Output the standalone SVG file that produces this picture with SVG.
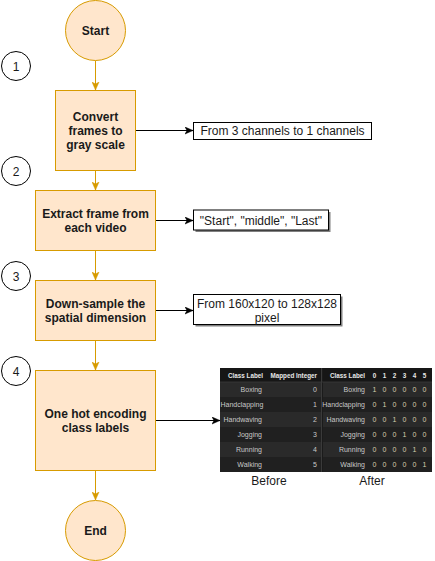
<svg xmlns="http://www.w3.org/2000/svg" width="435" height="561" viewBox="0 0 435 561">
<defs>
<style>
.box{fill:#ffe6cc;stroke:#d79b00;stroke-width:1}
.lbl{font-family:"Liberation Sans",Arial,sans-serif;font-size:12px;font-weight:bold;fill:#1a1a1a;text-anchor:middle}
.txt{font-family:"Liberation Sans",Arial,sans-serif;font-size:12px;fill:#1a1a1a;text-anchor:middle}
.note{fill:#ffffff;stroke:#000000;stroke-width:1}
.shadow{fill:#808080}
.num{fill:#ffffff;stroke:#000000;stroke-width:1}
.oc{stroke:#d79b00;stroke-width:1;fill:none;marker-end:url(#ao)}
.bc{stroke:#000000;stroke-width:1;fill:none;marker-end:url(#ab)}
.th{font-family:"Liberation Sans",Arial,sans-serif;font-size:6.3px;font-weight:bold;fill:#e8e8e8}
.td{font-family:"Liberation Sans",Arial,sans-serif;font-size:7px;fill:#c8c8c8}
.tn{font-family:"Liberation Sans",Arial,sans-serif;font-size:7px;fill:#d8cfae;text-anchor:middle}
.r{text-anchor:end}
</style>
<marker id="ao" viewBox="0 0 8 8" refX="8" refY="4" markerWidth="8" markerHeight="8" markerUnits="userSpaceOnUse" orient="auto">
<path d="M0,0.5 L8,4 L0,7.5 L2,4 Z" fill="#d79b00" stroke="#d79b00" stroke-width="0.5"/>
</marker>
<marker id="ab" viewBox="0 0 8 8" refX="8" refY="4" markerWidth="8" markerHeight="8" markerUnits="userSpaceOnUse" orient="auto">
<path d="M0,0.5 L8,4 L0,7.5 L2,4 Z" fill="#000000" stroke="#000000" stroke-width="0.5"/>
</marker>
</defs>
<rect width="435" height="561" fill="#ffffff"/>

<g id="connectors">
<line class="oc" x1="95.5" y1="60.5" x2="95.5" y2="90"/>
<line class="oc" x1="95.5" y1="170.5" x2="95.5" y2="190"/>
<line class="oc" x1="95.5" y1="250.5" x2="95.5" y2="280"/>
<line class="oc" x1="95.5" y1="340.5" x2="95.5" y2="370"/>
<line class="oc" x1="95.5" y1="470.5" x2="95.5" y2="500"/>
<line class="bc" x1="135.5" y1="130.5" x2="193" y2="130.5"/>
<line class="bc" x1="155.5" y1="220.5" x2="193" y2="220.5"/>
<line class="bc" x1="155.5" y1="310.5" x2="193" y2="310.5"/>
<line class="bc" x1="155.5" y1="420.5" x2="220" y2="420.5"/>
</g>

<g id="start">
<circle class="box" cx="95.5" cy="30.5" r="30"/>
<text class="lbl" x="95.5" y="35">Start</text>
</g>

<g id="step1">
<circle class="num" cx="16" cy="66" r="14.5"/>
<text class="txt" x="16" y="70.5">1</text>
</g>
<g id="step2">
<circle class="num" cx="16" cy="171" r="14.5"/>
<text class="txt" x="16" y="175.5">2</text>
</g>
<g id="step3">
<circle class="num" cx="16" cy="276" r="14.5"/>
<text class="txt" x="16" y="280.5">3</text>
</g>
<g id="step4">
<circle class="num" cx="16" cy="371" r="14.5"/>
<text class="txt" x="16" y="375.5">4</text>
</g>

<g id="convert">
<rect class="box" x="55.5" y="90.5" width="80" height="80"/>
<text class="lbl" x="95.5" y="121">Convert</text>
<text class="lbl" x="95.5" y="135">frames to</text>
<text class="lbl" x="95.5" y="149">gray scale</text>
</g>

<g id="extract">
<rect class="box" x="35.5" y="190.5" width="120" height="60"/>
<text class="lbl" x="95.5" y="218">Extract frame from</text>
<text class="lbl" x="95.5" y="232">each video</text>
</g>

<g id="downsample">
<rect class="box" x="35.5" y="280.5" width="120" height="60"/>
<text class="lbl" x="95.5" y="308">Down-sample the</text>
<text class="lbl" x="95.5" y="322">spatial dimension</text>
</g>

<g id="onehot">
<rect class="box" x="35.5" y="370.5" width="120" height="100"/>
<text class="lbl" x="95.5" y="418">One hot encoding</text>
<text class="lbl" x="95.5" y="432">class labels</text>
</g>

<g id="end">
<circle class="box" cx="95.5" cy="530.5" r="30"/>
<text class="lbl" x="95.5" y="535">End</text>
</g>

<g id="note1">
<rect class="note" x="193.5" y="122.5" width="178" height="17"/>
<text class="txt" x="282.5" y="135">From 3 channels to 1 channels</text>
</g>

<g id="note2">
<rect class="shadow" x="195.5" y="212" width="135" height="20"/>
<rect class="note" x="193.5" y="210" width="135" height="20"/>
<text class="txt" x="261" y="224.5">"Start", "middle", "Last"</text>
</g>

<g id="note3">
<rect class="shadow" x="195.5" y="296.5" width="147" height="30"/>
<rect class="note" x="193.5" y="294.5" width="147" height="30"/>
<text class="txt" x="267" y="307.5">From 160x120 to 128x128</text>
<text class="txt" x="267" y="321.5">pixel</text>
</g>

<g id="table">
<rect x="220" y="368" width="212" height="104" fill="#1b1b1b"/>
<rect x="220" y="368" width="101" height="14" fill="#161616"/>
<rect x="323" y="368" width="109" height="14" fill="#161616"/>
<g fill="#2a2a2a">
<rect x="220" y="382" width="101" height="15"/>
<rect x="220" y="412" width="101" height="15"/>
<rect x="220" y="442" width="101" height="15"/>
<rect x="323" y="382" width="109" height="15"/>
<rect x="323" y="412" width="109" height="15"/>
<rect x="323" y="442" width="109" height="15"/>
</g>
<g fill="#202020">
<rect x="220" y="397" width="101" height="15"/>
<rect x="220" y="427" width="101" height="15"/>
<rect x="220" y="457" width="101" height="15"/>
<rect x="323" y="397" width="109" height="15"/>
<rect x="323" y="427" width="109" height="15"/>
<rect x="323" y="457" width="109" height="15"/>
</g>
<line x1="321.5" y1="368" x2="321.5" y2="472" stroke="#3a3a3a" stroke-width="1"/>
<line x1="220" y1="382" x2="432" y2="382" stroke="#3a3a3a" stroke-width="0.8"/>

<text class="th r" x="263" y="377.5">Class Label</text>
<text class="th r" x="317" y="377.5">Mapped Integer</text>
<text class="td r" x="262" y="392">Boxing</text>
<text class="td" x="220.5" y="407">Handclapping</text>
<text class="td r" x="262" y="422">Handwaving</text>
<text class="td r" x="262" y="437">Jogging</text>
<text class="td r" x="262" y="452">Running</text>
<text class="td r" x="262" y="467">Walking</text>
<text class="td r" x="317" y="392">0</text>
<text class="td r" x="317" y="407">1</text>
<text class="td r" x="317" y="422">2</text>
<text class="td r" x="317" y="437">3</text>
<text class="td r" x="317" y="452">4</text>
<text class="td r" x="317" y="467">5</text>

<text class="th r" x="365" y="377.5">Class Label</text>
<g class="th">
<text x="374.5" y="377.5" text-anchor="middle">0</text>
<text x="384.5" y="377.5" text-anchor="middle">1</text>
<text x="394.5" y="377.5" text-anchor="middle">2</text>
<text x="404.5" y="377.5" text-anchor="middle">3</text>
<text x="414.5" y="377.5" text-anchor="middle">4</text>
<text x="424.5" y="377.5" text-anchor="middle">5</text>
</g>
<text class="td r" x="365" y="392">Boxing</text>
<text class="td r" x="365" y="407">Handclapping</text>
<text class="td r" x="365" y="422">Handwaving</text>
<text class="td r" x="365" y="437">Jogging</text>
<text class="td r" x="365" y="452">Running</text>
<text class="td r" x="365" y="467">Walking</text>

<text class="tn" x="374.5" y="392">1</text><text class="tn" x="384.5" y="392">0</text><text class="tn" x="394.5" y="392">0</text><text class="tn" x="404.5" y="392">0</text><text class="tn" x="414.5" y="392">0</text><text class="tn" x="424.5" y="392">0</text>
<text class="tn" x="374.5" y="407">0</text><text class="tn" x="384.5" y="407">1</text><text class="tn" x="394.5" y="407">0</text><text class="tn" x="404.5" y="407">0</text><text class="tn" x="414.5" y="407">0</text><text class="tn" x="424.5" y="407">0</text>
<text class="tn" x="374.5" y="422">0</text><text class="tn" x="384.5" y="422">0</text><text class="tn" x="394.5" y="422">1</text><text class="tn" x="404.5" y="422">0</text><text class="tn" x="414.5" y="422">0</text><text class="tn" x="424.5" y="422">0</text>
<text class="tn" x="374.5" y="437">0</text><text class="tn" x="384.5" y="437">0</text><text class="tn" x="394.5" y="437">0</text><text class="tn" x="404.5" y="437">1</text><text class="tn" x="414.5" y="437">0</text><text class="tn" x="424.5" y="437">0</text>
<text class="tn" x="374.5" y="452">0</text><text class="tn" x="384.5" y="452">0</text><text class="tn" x="394.5" y="452">0</text><text class="tn" x="404.5" y="452">0</text><text class="tn" x="414.5" y="452">1</text><text class="tn" x="424.5" y="452">0</text>
<text class="tn" x="374.5" y="467">0</text><text class="tn" x="384.5" y="467">0</text><text class="tn" x="394.5" y="467">0</text><text class="tn" x="404.5" y="467">0</text><text class="tn" x="414.5" y="467">0</text><text class="tn" x="424.5" y="467">1</text>

<text class="txt" x="269" y="485">Before</text>
<text class="txt" x="372" y="485">After</text>
</g>
</svg>
